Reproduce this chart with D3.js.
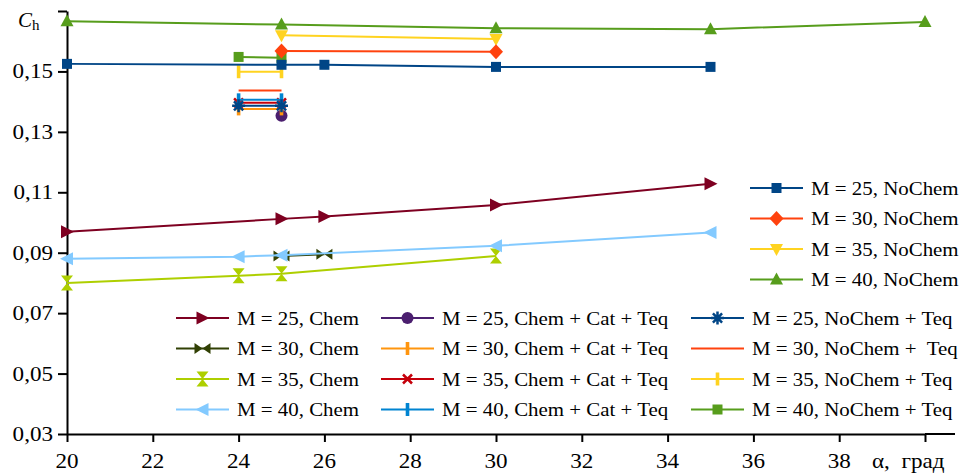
<!DOCTYPE html>
<html>
<head>
<meta charset="utf-8">
<script src="https://cdn.jsdelivr.net/npm/d3@7"></script>
<style>
  body { margin: 0; background: #fff; }
</style>
</head>
<body>
<div id="vis"><svg></svg></div>
<script>
// tick values
const xTicks = [20, 22, 24, 26, 28, 30, 32, 34, 36, 38, 40];
const yTicks = [0.03, 0.05, 0.07, 0.09, 0.11, 0.13, 0.15, 0.17];

// NoChem
const m25NoChem = [[20, 0.1525], [25, 0.1522], [26, 0.1522], [30, 0.1515], [35, 0.1515]];
const m30NoChem = [[25, 0.1568], [30, 0.1565]];
const m35NoChem = [[25, 0.1620], [30, 0.1607]];
const m40NoChem = [[20, 0.1666], [25, 0.1655], [30, 0.1643], [35, 0.1640], [40, 0.1664]];
// Chem
const m25Chem = [[20, 0.0969], [25, 0.1012], [26, 0.1020], [30, 0.1058], [35, 0.1128]];
const m30Chem = [[25, 0.0889], [26, 0.0895]];
const m35Chem = [[20, 0.0800], [24, 0.0824], [25, 0.0830], [30, 0.0889]];
const m40Chem = [[20, 0.0880], [24, 0.0887], [25, 0.0892], [30, 0.0923], [35, 0.0967]];
// Chem + Cat + Teq
const m25Cat = [[25, 0.1353]];
const m30Cat = [[24, 0.1376], [25, 0.1376]];
const m35Cat = [[24, 0.1396], [25, 0.1396]];
const m40Cat = [[24, 0.1406], [25, 0.1406]];
// NoChem + Teq
const m25Teq = [[24, 0.1386], [25, 0.1386]];
const m30Teq = [[24, 0.1437], [25, 0.1437]];
const m35Teq = [[24, 0.1499], [25, 0.1499]];
const m40Teq = [[24, 0.1548], [25, 0.1545]];

var width = 966, height = 473;
var FONT = "'Liberation Serif', 'DejaVu Serif', serif";

var svg = d3.select("#vis").select("svg")
  .attr("width", width)
  .attr("height", height)
  .attr("font-family", FONT);

var x = d3.scaleLinear().domain([20, 40]).range([67, 925]);
var y = d3.scaleLinear().domain([0.03, 0.17]).range([434, 11]);

// marker paths
const MARKERS = {
  square: "M-5,-5H5V5H-5Z",
  diamond: "M0,-7.5L7,0L0,7.5L-7,0Z",
  triUp: "M0,-7L6.5,5L-6.5,5Z",
  triDown: "M0,7L6.5,-5L-6.5,-5Z",
  triRight: "M7,0L-6,-6.5L-6,6.5Z",
  triLeft: "M-7,0L6,-6.5L6,6.5Z",
  bowtie: "M-8,-5.5L0,0L-8,5.5Z M8,-5.5L0,0L8,5.5Z",
  hourglass: "M-6,-7.5L6,-7.5L0,0Z M-6,7.5L6,7.5L0,0Z",
  circle: "M6,0A6,6 0 1,1 -6,0A6,6 0 1,1 6,0Z",
  bar: "M-1.8,-6.5H1.8V6.5H-1.8Z",
  cross: "M-4.5,-4.5L4.5,4.5M4.5,-4.5L-4.5,4.5",
  star: "M0,-6.5V6.5M-6.5,0H6.5M-4.6,-4.6L4.6,4.6M4.6,-4.6L-4.6,4.6",
  none: ""
};
const STROKED = ["cross", "star"];

const series = [
  { name: "M = 25, Chem", data: m25Chem, color: "#7e0021", marker: "triRight" },
  { name: "M = 30, Chem", data: m30Chem, color: "#314004", marker: "bowtie" },
  { name: "M = 35, Chem", data: m35Chem, color: "#aecf00", marker: "hourglass" },
  { name: "M = 40, Chem", data: m40Chem, color: "#83caff", marker: "triLeft" },
  { name: "M = 25, Chem + Cat + Teq", data: m25Cat, color: "#4b1f6f", marker: "circle" },
  { name: "M = 30, Chem + Cat + Teq", data: m30Cat, color: "#ff950e", marker: "bar" },
  { name: "M = 35, Chem + Cat + Teq", data: m35Cat, color: "#c5000b", marker: "cross" },
  { name: "M = 40, Chem + Cat + Teq", data: m40Cat, color: "#0084d1", marker: "bar" },
  { name: "M = 30, NoChem +  Teq", data: m30Teq, color: "#ff420e", marker: "none" },
  { name: "M = 35, NoChem + Teq", data: m35Teq, color: "#ffd320", marker: "bar" },
  { name: "M = 40, NoChem + Teq", data: m40Teq, color: "#579d1c", marker: "square" },
  { name: "M = 25, NoChem + Teq", data: m25Teq, color: "#004586", marker: "star" },
  { name: "M = 40, NoChem", data: m40NoChem, color: "#579d1c", marker: "triUp" },
  { name: "M = 35, NoChem", data: m35NoChem, color: "#ffd320", marker: "triDown" },
  { name: "M = 30, NoChem", data: m30NoChem, color: "#ff420e", marker: "diamond" },
  { name: "M = 25, NoChem", data: m25NoChem, color: "#004586", marker: "square" }
];
const byName = n => series.find(s => s.name === n);

function drawMarker(g, s, px, py) {
  if (s.marker === "none") return;
  var stroked = STROKED.includes(s.marker);
  g.append("path")
    .attr("transform", `translate(${px},${py})`)
    .attr("d", MARKERS[s.marker])
    .attr("fill", stroked ? "none" : s.color)
    .attr("stroke", stroked ? s.color : "none")
    .attr("stroke-width", 2.5);
}

// axes
const fmt = d => d3.format(".2f")(d).replace(".", ",");

svg.append("g")
  .attr("transform", "translate(67,0)")
  .call(d3.axisLeft(y).tickValues(yTicks).tickSize(9).tickSizeOuter(0).tickFormat(""))
  .call(g => g.selectAll("line,path").attr("stroke", "#000").attr("stroke-width", 2));

svg.append("g")
  .attr("transform", "translate(0,434)")
  .call(d3.axisBottom(x).tickValues(xTicks).tickSize(8).tickSizeOuter(0).tickFormat(""))
  .call(g => g.selectAll("line,path").attr("stroke", "#000").attr("stroke-width", 2));

// axis line continues past the last tick
svg.append("line")
  .attr("x1", x(40)).attr("x2", 955)
  .attr("y1", 434).attr("y2", 434)
  .attr("stroke", "#000").attr("stroke-width", 2);

svg.append("g").selectAll("text")
  .data(yTicks.filter(d => d < 0.16))
  .join("text")
  .attr("transform", d => `translate(53,${y(d) + 7}) scale(1.1,1)`)
  .attr("text-anchor", "end")
  .attr("font-family", FONT)
  .attr("font-size", 21)
  .text(fmt);

svg.append("g").selectAll("text")
  .data(xTicks.filter(d => d < 40))
  .join("text")
  .attr("transform", d => `translate(${x(d)},468) scale(1.1,1)`)
  .attr("text-anchor", "middle")
  .attr("font-family", FONT)
  .attr("font-size", 21)
  .text(d => d);

svg.append("text")
  .attr("transform", "translate(872,468) scale(1.1,1)")
  .attr("font-family", FONT)
  .attr("font-size", 21)
  .style("white-space", "pre")
  .text("α,  град");

var ch = svg.append("text")
  .attr("x", 18).attr("y", 27)
  .attr("font-family", FONT)
  .attr("font-size", 21);
ch.append("tspan").attr("font-style", "italic").text("C");
ch.append("tspan").attr("font-size", 15).attr("dy", 3).text("h");

// lines + points
var line = d3.line().x(d => x(d[0])).y(d => y(d[1]));
var plot = svg.append("g");
series.forEach(s => {
  var g = plot.append("g");
  g.append("path")
    .attr("d", line(s.data))
    .attr("fill", "none")
    .attr("stroke", s.color)
    .attr("stroke-width", 2);
  s.data.forEach(d => drawMarker(g, s, x(d[0]), y(d[1])));
});

// legends
function legendItem(s, lx, ly) {
  var g = svg.append("g");
  g.append("line")
    .attr("x1", lx).attr("x2", lx + 53)
    .attr("y1", ly).attr("y2", ly)
    .attr("stroke", s.color).attr("stroke-width", 2);
  drawMarker(g, s, lx + 26.5, ly);
  g.append("text")
    .attr("transform", `translate(${lx + 61},${ly + 6.5}) scale(1.1,1)`)
    .attr("font-family", FONT)
    .attr("font-size", 19)
    .style("white-space", "pre")
    .text(s.name);
}

const rightLegend = ["M = 25, NoChem", "M = 30, NoChem", "M = 35, NoChem", "M = 40, NoChem"];
rightLegend.forEach((n, i) => legendItem(byName(n), 750, 188 + i * 30.5));

const bottomLegend = [
  ["M = 25, Chem", "M = 30, Chem", "M = 35, Chem", "M = 40, Chem"],
  ["M = 25, Chem + Cat + Teq", "M = 30, Chem + Cat + Teq", "M = 35, Chem + Cat + Teq", "M = 40, Chem + Cat + Teq"],
  ["M = 25, NoChem + Teq", "M = 30, NoChem +  Teq", "M = 35, NoChem + Teq", "M = 40, NoChem + Teq"]
];
const colX = [176, 381, 691];
bottomLegend.forEach((col, c) => {
  col.forEach((n, i) => legendItem(byName(n), colX[c], 318 + i * 30.5));
});
</script>
</body>
</html>
